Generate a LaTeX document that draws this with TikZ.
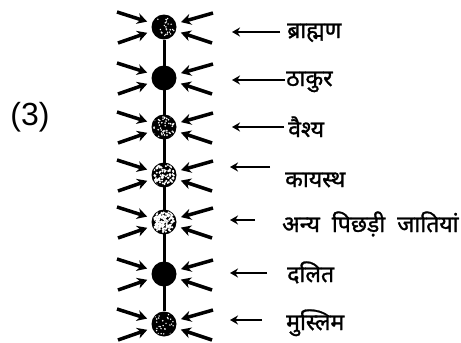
\documentclass[tikz,border=0pt]{standalone}
\usepackage{fontspec}
\setmainfont{Liberation Sans}
\newfontfamily\deva[Script=Devanagari,FakeBold=1.2]{Noto Sans}
\usetikzlibrary{arrows.meta,calc,backgrounds}
\tikzset{
  dot/.style={circle,fill=black,minimum size=25pt,inner sep=0pt},
  inarr/.style={line width=3.5pt,-{Stealth[length=10pt,width=11pt]},shorten >=5pt},
  larr/.style={line width=2.2pt,-{Stealth[length=8pt,width=9pt]}},
  lab/.style={font=\deva\fontsize{23}{25}\selectfont,inner sep=0pt},
  stem/.style={line width=3pt}
}
\newcommand\myspeckle[3]{%
  \begin{scope}
    \clip (#1.center) circle (11.5pt);
    \foreach \k in {1,...,#2}{%
      \fill[white] ($(#1.center)+(rand*10,rand*10)$) circle (#3);
    }
  \end{scope}}
\newcommand\myinward[1]{%
  \draw[inarr] ($(#1)+(-47,-15)$) -- (#1);
  \draw[inarr] ($(#1)+(-46,16)$) -- (#1);
  \draw[inarr] ($(#1)+(49,-14)$) -- (#1);
  \draw[inarr] ($(#1)+(48,16)$) -- (#1);}
\begin{document}
\begin{tikzpicture}[x=1pt,y=-1pt]
\pgfmathsetseed{11}
\useasboundingbox (0,0) rectangle (461,343);
\node[font=\fontsize{32}{34}\selectfont,inner sep=0pt] (num) at (30,117) {(3)};
% circles
\node[dot] (c1) at (164,27) {};
\node[dot] (c2) at (164,78) {};
\node[dot] (c3) at (164,127) {};
\node[dot] (c4) at (164,175) {};
\node[dot] (c5) at (164,222) {};
\node[dot] (c6) at (164,274) {};
\node[dot] (c7) at (164,324) {};
\begin{pgfonlayer}{background}
  \fill[white] (0,0) rectangle (461,343);
  \draw[stem] (c1) -- (c7);
\end{pgfonlayer}
\myspeckle{c1}{25}{0.8pt}
\myspeckle{c3}{45}{0.9pt}
\myspeckle{c4}{90}{1.1pt}
\myspeckle{c5}{150}{1.2pt}
\myspeckle{c7}{30}{0.8pt}
\foreach \c in {c1,c2,c3,c4,c5,c6,c7}{\myinward{\c}}
% labels
\node[lab,anchor=base west] (l1) at (287,38) {ब्राह्मण};
\node[lab,anchor=base west] (l2) at (286,86) {ठाकुर};
\node[lab,anchor=base west] (l3) at (288,137) {वैश्य};
\node[lab,anchor=base west] (l4) at (285,187) {कायस्थ};
\node[lab,anchor=base west] (l5) at (282,232) {अन्य\hspace{6pt} पिछड़ी\hspace{6pt} जातियां};
\node[lab,anchor=base west] (l6) at (287,282) {दलित};
\node[lab,anchor=base west] (l7) at (286,330) {मुस्लिम};
% label arrows
\coordinate (s1) at (280,32);  \coordinate (e1) at (232,32);
\coordinate (s2) at (285,80);  \coordinate (e2) at (232,80);
\coordinate (s3) at (284,127); \coordinate (e3) at (232,127);
\coordinate (s4) at (270,167); \coordinate (e4) at (230,167);
\coordinate (s5) at (255,220); \coordinate (e5) at (230,220);
\coordinate (s6) at (267,273); \coordinate (e6) at (230,273);
\coordinate (s7) at (262,320); \coordinate (e7) at (230,320);
\foreach \i in {1,...,7}{\draw[larr] (s\i) -- (e\i);}
\end{tikzpicture}
\end{document}
